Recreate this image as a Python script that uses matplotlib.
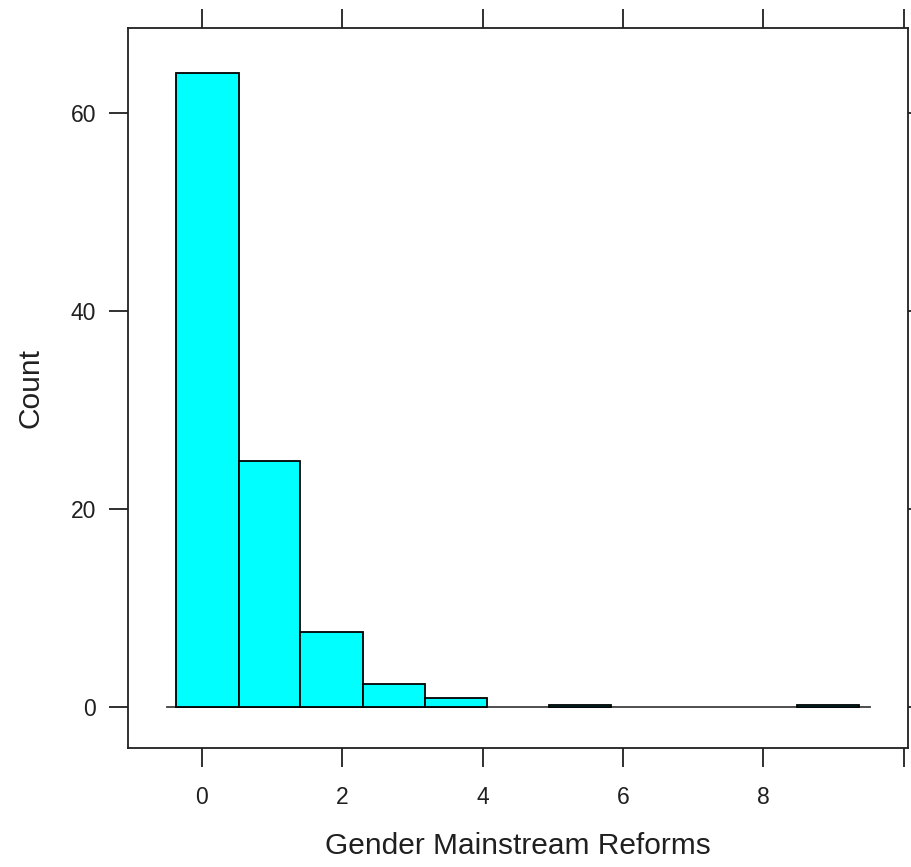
import numpy as np
import matplotlib
matplotlib.use('Agg')
import matplotlib.pyplot as plt

plt.rcParams['font.family'] = ['Liberation Sans', 'DejaVu Sans']

# histogram data
bin_edges = [-0.36, 0.524, 1.407, 2.291, 3.175, 4.058, 4.942, 5.825, 6.709, 7.593, 8.476, 9.36]
counts = [64.1, 24.9, 7.6, 2.3, 0.9, 0, 0.2, 0, 0, 0, 0.2]
x_ticks = [0, 2, 4, 6, 8, 10]
x_ticklabels = ['0', '2', '4', '6', '8', '']
y_ticks = [0, 20, 40, 60]

fig = plt.figure(figsize=(9.12, 8.67), dpi=100)
ax = fig.add_axes([128 / 912, 1 - 748 / 867, (908 - 128) / 912, (748 - 28) / 867])

edges = np.array(bin_edges)
vals = np.array(counts)
keep = vals > 0
ax.bar(edges[:-1][keep], vals[keep], width=np.diff(edges)[keep], align='edge',
       color='#00FFFF', edgecolor='black', linewidth=1.3, zorder=3)

# reference line at zero
ax.plot([-0.5, 9.52], [0, 0], color='#404040', linewidth=1.3, zorder=2)

ax.set_xlim(-1.05, 10.06)
ax.set_ylim(-4.14, 68.6)

ax.set_xticks(x_ticks)
ax.set_xticklabels(x_ticklabels)
ax.set_yticks(y_ticks)
ax.tick_params(axis='both', direction='out', length=14, width=1.3, color='#202020',
               labelsize=16.5, labelcolor='#202020')
ax.tick_params(axis='x', top=True, labeltop=False, pad=13)
ax.tick_params(axis='y', right=True, labelright=False, pad=9)

for s in ax.spines.values():
    s.set_linewidth(1.3)
    s.set_color('#202020')

ax.set_xlabel('Gender Mainstream Reforms', fontsize=21.5, labelpad=17, color='#202020')
ax.set_ylabel('Count', fontsize=21.5, labelpad=19, color='#202020')

fig.savefig('out.png', dpi=100)
